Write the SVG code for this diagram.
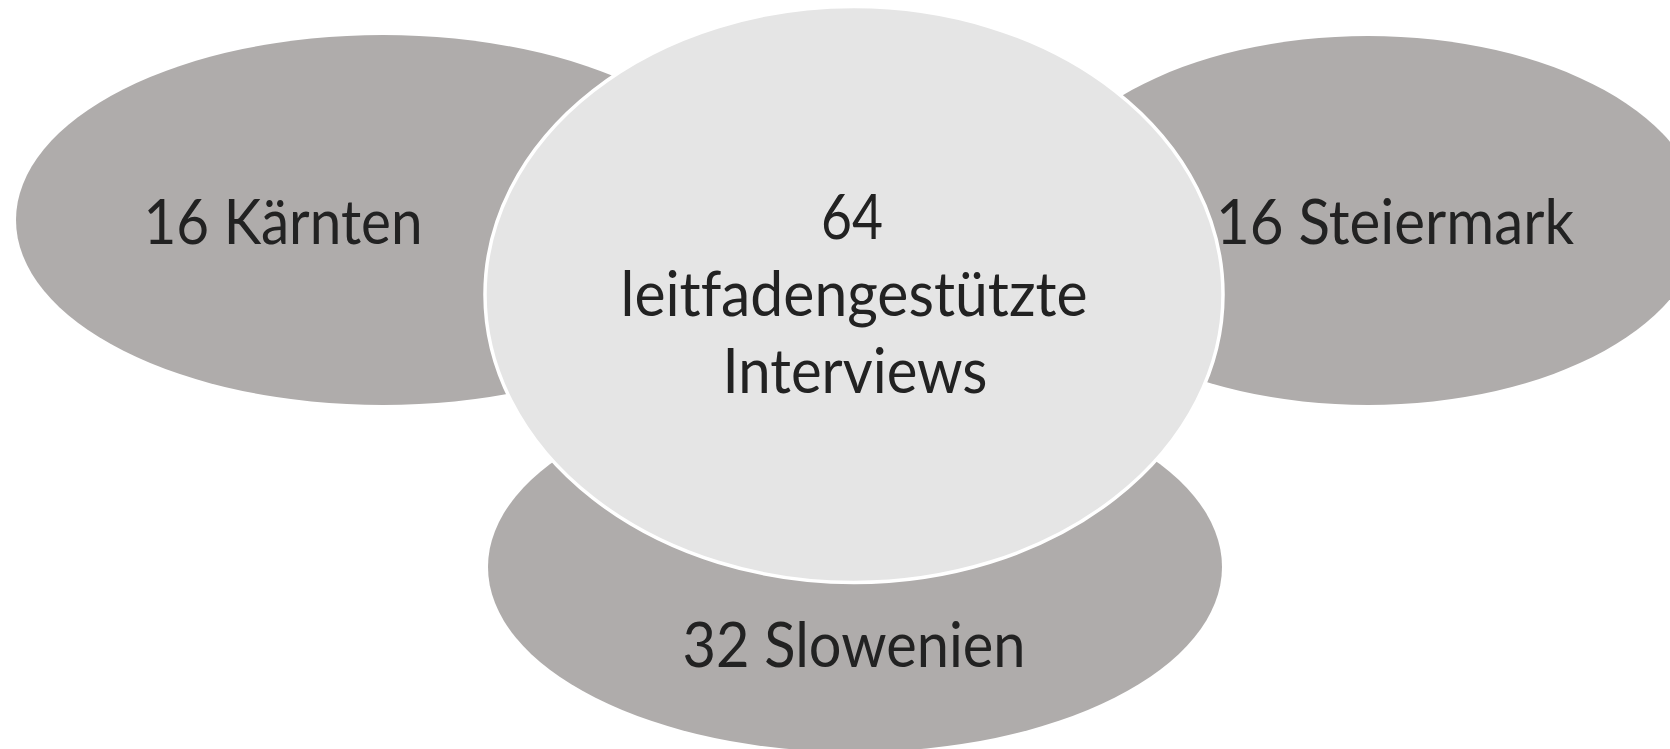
<svg xmlns="http://www.w3.org/2000/svg" width="1670" height="749" viewBox="0 0 1670 749">
<style>
.outer{fill:#afacab;stroke:none}
.center{fill:#e5e5e5;stroke:#ffffff;stroke-width:3.5}
.lbl{font-family:Lato,"Open Sans","Liberation Sans",sans-serif;font-size:62px;fill:#222222;text-anchor:middle;font-variant-ligatures:none}
</style>
<rect width="1670" height="749" fill="#ffffff"/>
<g id="kaernten">
<ellipse class="outer" cx="383" cy="220" rx="367" ry="185"/>
<text class="lbl" x="283" y="244" textLength="279" lengthAdjust="spacingAndGlyphs">16 Kärnten</text>
</g>
<g id="steiermark">
<ellipse class="outer" cx="1368" cy="220.5" rx="334" ry="184.5"/>
</g>
<g id="slowenien">
<ellipse class="outer" cx="855" cy="567" rx="367" ry="185"/>
<text class="lbl" x="854" y="667" textLength="343" lengthAdjust="spacingAndGlyphs">32 Slowenien</text>
</g>
<g id="interviews">
<ellipse class="center" cx="854" cy="294.5" rx="369" ry="288"/>
<text class="lbl" x="852" y="239" textLength="62" lengthAdjust="spacingAndGlyphs">64</text>
<text class="lbl" x="854" y="316" textLength="467" lengthAdjust="spacingAndGlyphs">leitfadengestützte</text>
<text class="lbl" x="855" y="393" textLength="265" lengthAdjust="spacingAndGlyphs">Interviews</text>
</g>
<g id="steiermark-label">
<text class="lbl" x="1395" y="244" textLength="358" lengthAdjust="spacingAndGlyphs">16 Steiermark</text>
</g>
<g id="connectors"/>
</svg>
